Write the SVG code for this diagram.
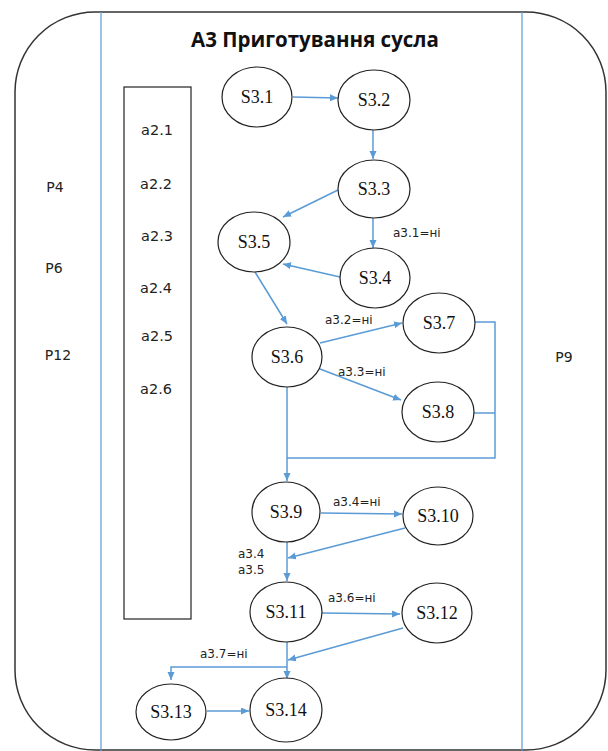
<svg xmlns="http://www.w3.org/2000/svg" width="608" height="751" viewBox="0 0 608 751">
<style>
.node ellipse{fill:#fff;stroke:#222;stroke-width:1.2}
.conn path{fill:none;stroke:#5B9BD5;stroke-width:1.5}
.lbl{font-family:"DejaVu Sans",Verdana,sans-serif;font-size:12px;fill:#222}
.side{font-family:"DejaVu Sans",Verdana,sans-serif;font-size:14px;fill:#222;text-anchor:middle}
.attr{font-family:"DejaVu Sans",Verdana,sans-serif;font-size:14.5px;fill:#222;text-anchor:middle}
</style>
<defs>
<marker id="ah" markerUnits="userSpaceOnUse" markerWidth="9" markerHeight="8" refX="8" refY="3.5" orient="auto">
<path d="M0,0 L8,3.5 L0,7 z" fill="#5B9BD5"/>
</marker>
</defs>
<rect width="608" height="751" fill="#fff"/>
<g id="frame">
<rect x="15" y="12" width="591" height="738" rx="80" ry="80" fill="none" stroke="#333" stroke-width="1.5"/>
<line x1="101" y1="12" x2="101" y2="751" stroke="#5B9BD5" stroke-width="1.2"/>
<line x1="522" y1="12" x2="522" y2="751" stroke="#5B9BD5" stroke-width="1.2"/>
<text x="315" y="47" font-family="'Open Sans','Liberation Sans',sans-serif" font-size="20.5" font-weight="bold" text-anchor="middle" fill="#111">А3 Приготування сусла</text>
</g>
<g id="side-labels">
<text class="side" x="55" y="192">P4</text>
<text class="side" x="54" y="273">P6</text>
<text class="side" x="58" y="360">P12</text>
<text class="side" x="564" y="362">P9</text>
</g>
<g id="attributes">
<rect x="124" y="87" width="67" height="532" fill="#fff" stroke="#222" stroke-width="1.2"/>
<text class="attr" x="157" y="135">a2.1</text>
<text class="attr" x="156" y="189">a2.2</text>
<text class="attr" x="157" y="241">a2.3</text>
<text class="attr" x="156" y="293">a2.4</text>
<text class="attr" x="157" y="341">a2.5</text>
<text class="attr" x="156" y="394">a2.6</text>
</g>
<g id="connectors" class="conn">
<path d="M293,97 L338,98" marker-end="url(#ah)"/>
<path d="M373,130 L373,159" marker-end="url(#ah)"/>
<path d="M338,190 L283,217" marker-end="url(#ah)"/>
<path d="M373,218 L373,248" marker-end="url(#ah)"/>
<path d="M340,277 L283,264" marker-end="url(#ah)"/>
<path d="M255,272 L287,324" marker-end="url(#ah)"/>
<path d="M320,343 L402,323" marker-end="url(#ah)"/>
<path d="M320,369 L401,400" marker-end="url(#ah)"/>
<path d="M475,322 L495,322 L495,458 L287,458"/>
<path d="M473,413 L495,413"/>
<path d="M287,387 L287,481" marker-end="url(#ah)"/>
<path d="M321,513 L402,514" marker-end="url(#ah)"/>
<path d="M405,528 L288,558" marker-end="url(#ah)"/>
<path d="M287,542 L287,581" marker-end="url(#ah)"/>
<path d="M322,613 L400,614" marker-end="url(#ah)"/>
<path d="M403,628 L288,660" marker-end="url(#ah)"/>
<path d="M287,642 L287,679" marker-end="url(#ah)"/>
<path d="M287,667 L171,667 L171,680" marker-end="url(#ah)"/>
<path d="M207,711 L249,711" marker-end="url(#ah)"/>
</g>
<g id="connector-labels">
<text class="lbl" x="393" y="237">a3.1=ні</text>
<text class="lbl" x="325" y="324">a3.2=ні</text>
<text class="lbl" x="338" y="376">a3.3=ні</text>
<text class="lbl" x="333" y="506">a3.4=ні</text>
<text class="lbl" x="238" y="558">a3.4</text>
<text class="lbl" x="238" y="574">a3.5</text>
<text class="lbl" x="328" y="602">a3.6=ні</text>
<text class="lbl" x="200" y="658">a3.7=ні</text>
</g>
<g id="nodes" font-family="'Liberation Serif','Times New Roman',serif" font-size="18" text-anchor="middle" fill="#111">
<g id="S3.1" class="node"><ellipse cx="257" cy="97" rx="35" ry="30"/><text x="257" y="103">S3.1</text></g>
<g id="S3.2" class="node"><ellipse cx="374" cy="100" rx="36" ry="30"/><text x="374" y="106">S3.2</text></g>
<g id="S3.3" class="node"><ellipse cx="374" cy="189" rx="36" ry="29"/><text x="374" y="195">S3.3</text></g>
<g id="S3.4" class="node"><ellipse cx="375" cy="278" rx="35" ry="30"/><text x="375" y="284">S3.4</text></g>
<g id="S3.5" class="node"><ellipse cx="254" cy="242" rx="36" ry="30"/><text x="254" y="248">S3.5</text></g>
<g id="S3.6" class="node"><ellipse cx="287" cy="357" rx="35" ry="30"/><text x="287" y="363">S3.6</text></g>
<g id="S3.7" class="node"><ellipse cx="439" cy="323" rx="36" ry="30"/><text x="439" y="329">S3.7</text></g>
<g id="S3.8" class="node"><ellipse cx="438" cy="412" rx="36" ry="30"/><text x="438" y="418">S3.8</text></g>
<g id="S3.9" class="node"><ellipse cx="286" cy="512" rx="34" ry="30"/><text x="286" y="518">S3.9</text></g>
<g id="S3.10" class="node"><ellipse cx="438" cy="516" rx="35" ry="29"/><text x="438" y="522">S3.10</text></g>
<g id="S3.11" class="node"><ellipse cx="286" cy="612" rx="36" ry="30"/><text x="286" y="618">S3.11</text></g>
<g id="S3.12" class="node"><ellipse cx="437" cy="613" rx="35" ry="30"/><text x="437" y="619">S3.12</text></g>
<g id="S3.13" class="node"><ellipse cx="171" cy="712" rx="35" ry="28"/><text x="171" y="718">S3.13</text></g>
<g id="S3.14" class="node"><ellipse cx="286" cy="710" rx="36" ry="32"/><text x="286" y="716">S3.14</text></g>
</g>
</svg>
